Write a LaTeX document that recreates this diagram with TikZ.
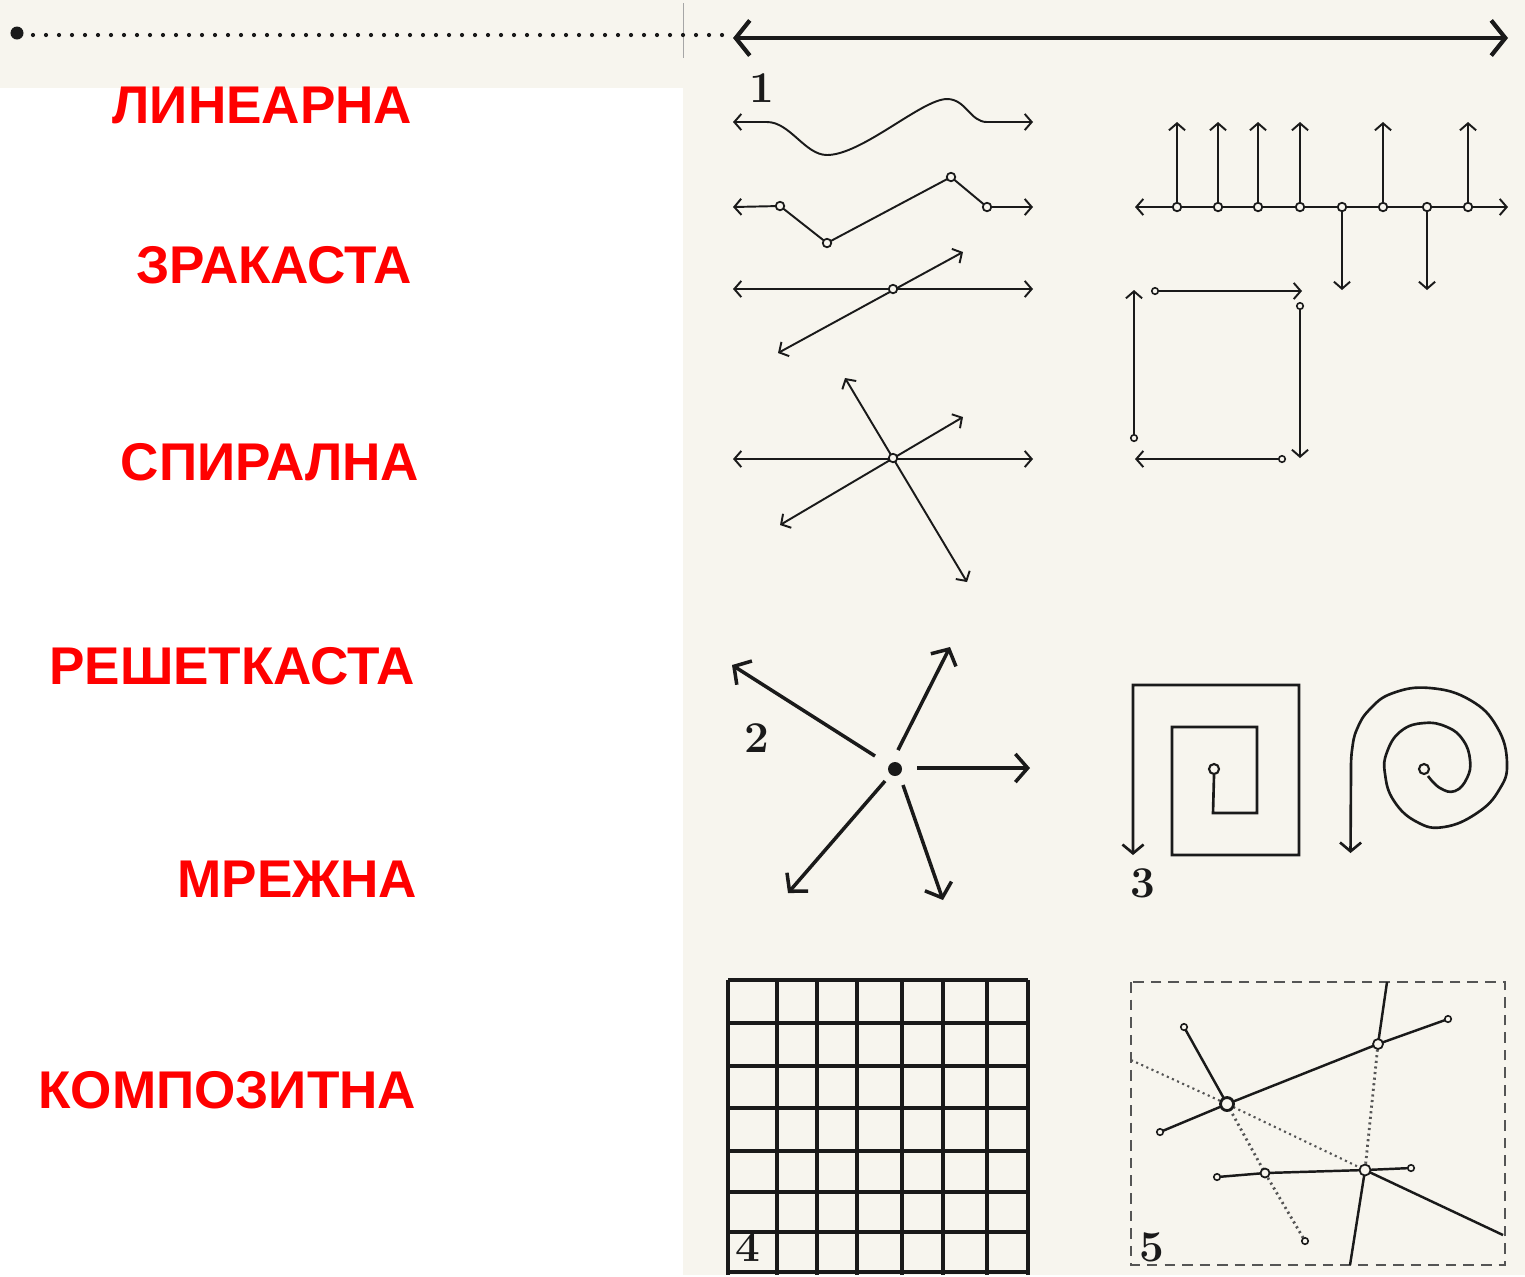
\documentclass[tikz,border=0pt]{standalone}
\usepackage{fontspec}
\newfontfamily\labelfont{Liberation Sans}
\usetikzlibrary{arrows.meta}
\definecolor{scan}{HTML}{F7F5EE}
\definecolor{ink}{HTML}{1A1A1A}
\definecolor{faint}{HTML}{555555}
\definecolor{labred}{HTML}{FF0000}
\begin{document}
\begin{tikzpicture}[x=0.01cm,y=-0.01cm,
  lab/.style={anchor=base east, text=labred, font=\labelfont\bfseries\fontsize{15.1pt}{16pt}\selectfont, inner sep=0},
  fignum/.style={font=\bfseries\fontsize{12.5pt}{12.5pt}\selectfont, text=ink, inner sep=0},
  fine/.style={draw=ink, line width=0.55pt},
  fineaa/.style={fine, {Straight Barb[length=2pt,width=4.6pt]}-{Straight Barb[length=2pt,width=4.6pt]}},
  finea/.style={fine, -{Straight Barb[length=2pt,width=4.6pt]}},
  bold/.style={draw=ink, line width=1pt, -{Straight Barb[length=3.5pt,width=8pt]}},
  ring/.style={circle, draw=ink, fill=scan, line width=0.5pt, inner sep=0, minimum size=0.085cm},
  sring/.style={circle, draw=ink, fill=scan, line width=0.45pt, inner sep=0, minimum size=0.065cm},
  bring/.style={circle, draw=ink, fill=scan, line width=0.8pt, inner sep=0, minimum size=0.13cm},
  gridline/.style={draw=ink, line width=1.1pt},
  boxline/.style={draw=faint, line width=0.45pt, densely dashed},
  webline/.style={draw=ink, line width=0.7pt},
  lightline/.style={draw=faint, line width=0.6pt, densely dotted}
]
% background
\fill[white] (0,0) rectangle (1525,1275);
\fill[scan] (683,0) rectangle (1525,1275);
\fill[scan] (0,0) rectangle (683,88);
\draw[black!35, line width=0.25pt] (683,3) -- (683,58);

% labels
\node[lab] (l1) at (413,123) {ЛИНЕАРНА};
\node[lab] (l2) at (413,283) {ЗРАКАСТА};
\node[lab] (l3) at (420,480) {СПИРАЛНА};
\node[lab] (l4) at (416,684) {РЕШЕТКАСТА};
\node[lab] (l5) at (418,897) {МРЕЖНА};
\node[lab] (l6) at (417,1108) {КОМПОЗИТНА};

% top dotted line and arrow
\node[circle, fill=ink, minimum size=0.13cm, inner sep=0] (bigdot) at (17,33) {};
\foreach \i in {0,...,53} \fill[ink] (33+\i*13,35) circle (0.021cm);
\coordinate (ta) at (733,38);
\coordinate (tb) at (1508,38);
\draw[draw=ink, line width=1.2pt, {Straight Barb[length=4pt,width=10pt]}-{Straight Barb[length=4pt,width=10pt]}] (ta) -- (tb);

% figure numbers
\node[fignum] (n1) at (762,88) {1};
\node[fignum] (n2) at (757,738) {2};
\node[fignum] (n3) at (1143,883) {3};
\node[fignum] (n4) at (748,1247) {4};
\node[fignum] (n5) at (1152,1247) {5};

% ---- figure 1: wave
\coordinate (w0) at (733,122);
\coordinate (w1) at (1033,122);
\draw[fineaa] (w0) -- (767,122) .. controls (790,122) and (805,155) .. (827,155)
  .. controls (862,155) and (922,99) .. (947,99) .. controls (966,99) and (970,122) .. (987,122) -- (w1);

% zigzag
\coordinate (za) at (733,207);
\coordinate (zb) at (1033,207);
\coordinate (z1) at (780,206);
\coordinate (z2) at (827,243);
\coordinate (z3) at (951,177);
\coordinate (z4) at (987,207);
\draw[fineaa] (za) -- (z1) -- (z2) -- (z3) -- (z4) -- (zb);
\foreach \p in {z1,z2,z3,z4} \node[ring] at (\p) {};

% crossing
\coordinate (ca) at (733,289);
\coordinate (cb) at (1033,289);
\coordinate (cc) at (778,353);
\coordinate (cd) at (963,252);
\draw[fineaa] (ca) -- (cb);
\draw[fineaa] (cc) -- (cd);
\node[ring] (cx) at (893,289) {};

% star
\coordinate (sa) at (733,459);
\coordinate (sb) at (1033,459);
\coordinate (sc) at (780,525);
\coordinate (sd) at (963,417);
\coordinate (se) at (845,378);
\coordinate (sf) at (967,582);
\draw[fineaa] (sa) -- (sb);
\draw[fineaa] (sc) -- (sd);
\draw[fineaa] (se) -- (sf);
\node[ring] (sx) at (893,458) {};

% ---- comb (top right)
\coordinate (ka) at (1135,207);
\coordinate (kb) at (1508,207);
\draw[fineaa] (ka) -- (kb);
\foreach \x in {1177,1218,1258,1300,1383,1468} {
  \coordinate (ku\x) at (\x,122);
  \draw[finea] (\x,207) -- (ku\x);
  \node[ring] at (\x,207) {};
}
\foreach \x in {1342,1427} {
  \coordinate (kd\x) at (\x,290);
  \draw[finea] (\x,207) -- (kd\x);
  \node[ring] at (\x,207) {};
}

% ---- open square
\node[sring] (q1) at (1134,438) {};
\coordinate (q1e) at (1134,290);
\draw[finea] (q1) -- (q1e);
\node[sring] (q2) at (1155,291) {};
\coordinate (q2e) at (1302,291);
\draw[finea] (q2) -- (q2e);
\node[sring] (q3) at (1300,306) {};
\coordinate (q3e) at (1300,458);
\draw[finea] (q3) -- (q3e);
\node[sring] (q4) at (1282,459) {};
\coordinate (q4e) at (1135,459);
\draw[finea] (q4) -- (q4e);

% ---- figure 2: radial
\node[circle, fill=ink, minimum size=0.14cm, inner sep=0] (rc) at (895,769) {};
\coordinate (r1s) at (875,756); \coordinate (r1e) at (732,665);
\coordinate (r2s) at (898,750); \coordinate (r2e) at (950,647);
\coordinate (r3s) at (917,768); \coordinate (r3e) at (1030,768);
\coordinate (r4s) at (903,785); \coordinate (r4e) at (943,900);
\coordinate (r5s) at (885,781); \coordinate (r5e) at (788,893);
\foreach \r in {1,...,5} \draw[bold] (r\r s) -- (r\r e);

% ---- figure 3: square spiral
\node[ring, minimum size=0.1cm, line width=0.6pt] (sq0) at (1214,769) {};
\coordinate (sqe) at (1133,855);
\draw[draw=ink, line width=0.75pt, -{Straight Barb[length=2.5pt,width=6pt]}]
  (sq0.south) -- (1213,813) -- (1257,813) -- (1257,727) -- (1172,727) -- (1172,855)
  -- (1299,855) -- (1299,685) -- (1133,685) -- (sqe);

% round spiral
\node[ring, minimum size=0.1cm, line width=0.6pt] (sp0) at (1424,769) {};
\coordinate (spe) at (1350.5,853);
\draw[draw=ink, line width=0.75pt, -{Straight Barb[length=2.5pt,width=6pt]}]
  plot[smooth, tension=0.75] coordinates {(1428,776) (1440,788) (1455,791) (1467,778) (1470,760)
  (1463,740) (1447,727) (1424,723) (1401,731) (1387,752) (1385,774)
  (1394,801) (1417,822) (1444,827) (1477,813) (1499,790) (1507,763)
  (1497,727) (1470,700) (1430,688) (1393,693) (1370,709) (1357,729)
  (1352,750) (1351,770)} -- (spe);

% ---- figure 4: grid
\foreach \x in {728,777,817,857,902,943,987,1028} \draw[gridline] (\x,980) -- (\x,1275);
\foreach \y in {980,1023,1066,1108,1151,1192,1232,1272} \draw[gridline] (728,\y) -- (1028,\y);

% ---- figure 5: composite
\draw[boxline] (1131,982) rectangle (1505,1265);
\coordinate (A) at (1387,982);
\coordinate (B) at (1350,1265);
\coordinate (L) at (1131,1060);
\coordinate (R) at (1503,1235);
\coordinate (P) at (1378,1044);
\coordinate (Q) at (1365,1170);
\coordinate (C) at (1227,1104);
\coordinate (S1) at (1160,1132);
\coordinate (S2) at (1448,1019);
\coordinate (T1) at (1184,1027);
\coordinate (T2) at (1265,1173);
\coordinate (T3) at (1305,1241);
\coordinate (U1) at (1217,1177);
\coordinate (U2) at (1411,1168);
\draw[webline] (A) -- (P);
\draw[lightline, line width=0.8pt] (P) -- (Q);
\draw[webline] (Q) -- (B);
\draw[lightline] (L) -- (C) -- (Q);
\draw[webline] (Q) -- (R);
\draw[webline] (S1) -- (C) -- (P) -- (S2);
\draw[webline] (T1) -- (C);
\draw[lightline, line width=0.8pt] (C) -- (T2) -- (T3);
\draw[webline] (U1) -- (T2) -- (Q) -- (U2);
\node[bring] (nC) at (C) {};
\node[ring, minimum size=0.11cm] (nQ) at (Q) {};
\node[ring, minimum size=0.1cm] (nP) at (P) {};
\node[ring, minimum size=0.09cm] (nT2) at (T2) {};
\foreach \p in {S1,S2,T1,T3,U1,U2} \node[sring] at (\p) {};
\end{tikzpicture}
\end{document}
